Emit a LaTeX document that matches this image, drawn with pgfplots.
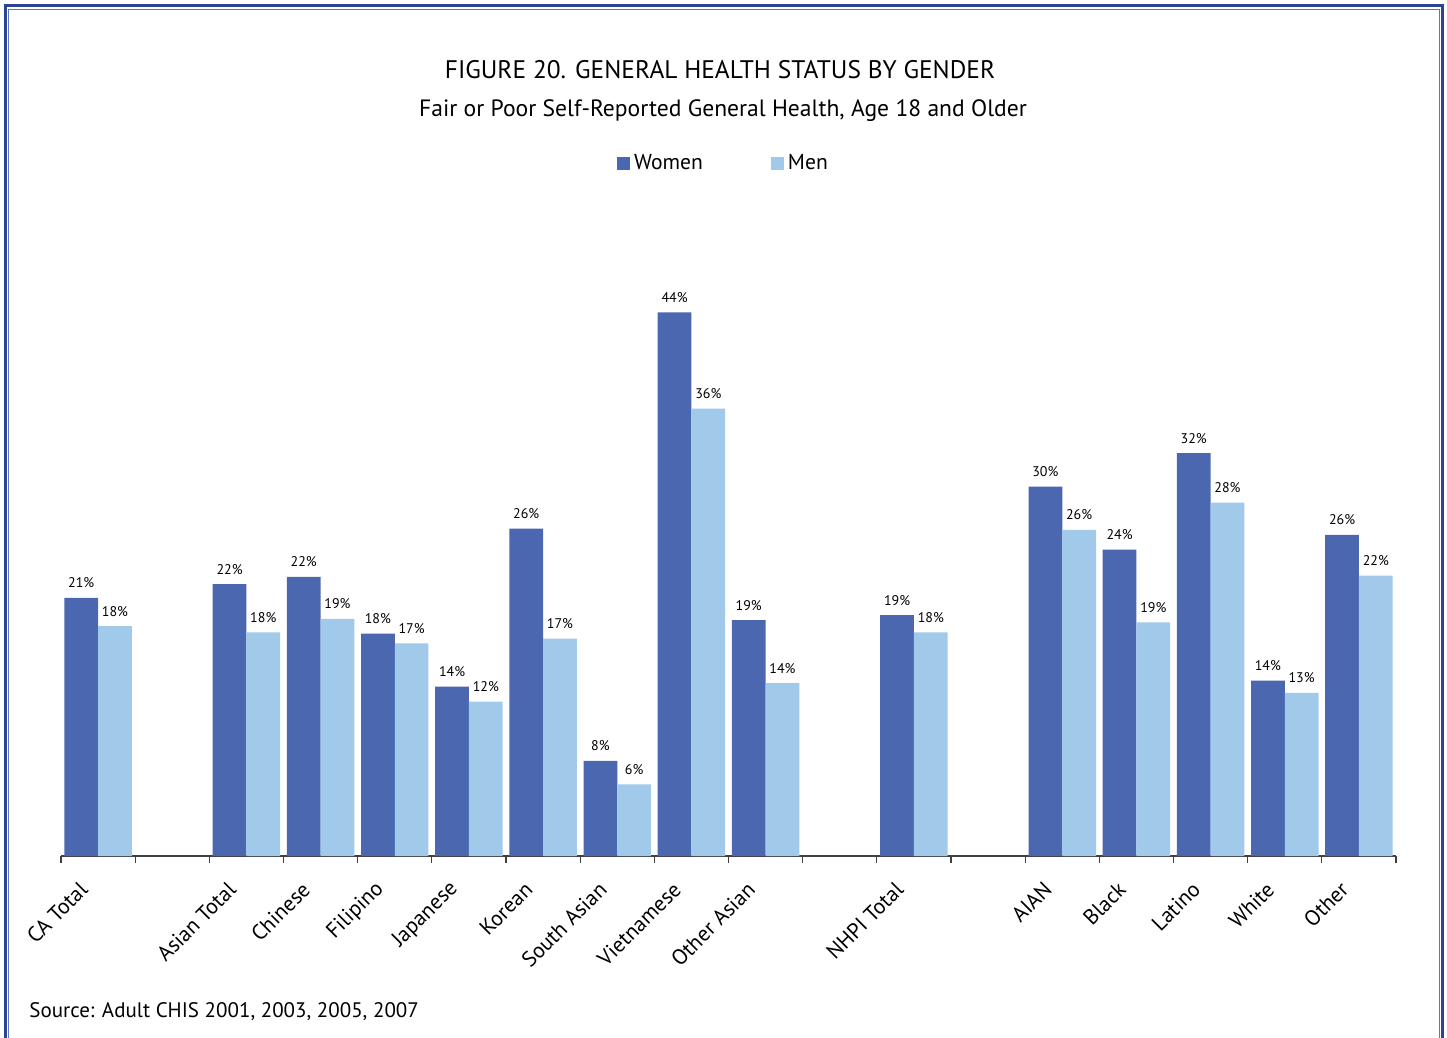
\documentclass[border=0pt]{standalone}
\usepackage{fontspec}
\setmainfont{PT Sans}
\usepackage{pgfplots}
\usepackage{pgfplotstable}
\pgfplotsset{compat=1.18}
\definecolor{women}{RGB}{74,103,176}
\definecolor{men}{RGB}{160,201,234}
\definecolor{frameout}{RGB}{44,68,150}
\definecolor{framein}{RGB}{98,118,182}

% x = slot centre (18 slots, three of them empty), heights, labels as printed
\pgfplotstableread{
x     w     wl  m     ml
0.5   20.9  21  18.6  18
2.5   22.0  22  18.1  18
3.5   22.6  22  19.2  19
4.5   18.0  18  17.2  17
5.5   13.7  14  12.5  12
6.5   26.5  26  17.6  17
7.5   7.7   8   5.8   6
8.5   44.0  44  36.2  36
9.5   19.1  19  14.0  14
11.5  19.5  19  18.1  18
13.5  29.9  30  26.4  26
14.5  24.8  24  18.9  19
15.5  32.6  32  28.6  28
16.5  14.2  14  13.2  13
17.5  26.0  26  22.7  22
}\health

\begin{document}
\begin{tikzpicture}
\begin{scope}[x=0.5pt,y=-0.5pt]
\useasboundingbox (0,0) rectangle (1447,1038);
\draw[frameout,line width=1.5pt] (5,1040) -- (5,5.5) -- (1442.5,5.5) -- (1442.5,1040);
\draw[framein,line width=0.6pt] (8.5,1040) -- (8.5,9.5) -- (1439.5,9.5) -- (1439.5,1040);
\node[anchor=base,font=\fontsize{12.7}{15}\selectfont] at (720,79) {FIGURE 20. GENERAL HEALTH STATUS BY GENDER};
\node[anchor=base,font=\fontsize{11.8}{13}\selectfont] at (723,117) {Fair or Poor Self-Reported General Health, Age 18 and Older};
\node[anchor=base west,font=\fontsize{10.5}{12}\selectfont,inner sep=0pt] at (29,1017) {Source: Adult CHIS 2001, 2003, 2005, 2007};
\end{scope}
\begin{axis}[
    at={(30.5pt,-428pt)}, anchor=south west,
    scale only axis, width=667.5pt, height=278pt,
    xmin=0, xmax=18, ymin=0, ymax=45,
    ybar=0pt, bar width=0.455,
    axis x line*=bottom, axis y line=none,
    axis line style={black!75, line width=0.6pt},
    xtick={0.5,2.5,3.5,4.5,5.5,6.5,7.5,8.5,9.5,11.5,13.5,14.5,15.5,16.5,17.5},
    xticklabels={CA Total,Asian Total,Chinese,Filipino,Japanese,Korean,South Asian,Vietnamese,Other Asian,NHPI Total,AIAN,Black,Latino,White,Other},
    minor xtick={0,1,...,18},
    major tick length=0pt, minor tick length=3.5pt,
    tick align=outside,
    minor tick style={black!75, line width=0.6pt},
    xticklabel style={rotate=45, anchor=east, inner sep=0pt, xshift=-15.5pt, yshift=-5.5pt,
                      font=\fontsize{10.8}{12}\selectfont},
    nodes near coords={\pgfplotspointmeta\%}, point meta=explicit symbolic,
    nodes near coords style={font=\fontsize{7}{8}\selectfont, anchor=base, inner sep=0pt, yshift=5pt, text=black},
    legend columns=2,
    legend style={at={(0.497,1.246)}, anchor=center, draw=none, fill=none,
                  font=\fontsize{10.8}{12}\selectfont,
                  /tikz/every even column/.append style={column sep=32pt}},
    legend image code/.code={\fill[#1] (0pt,-3.25pt) rectangle (6.5pt,3.25pt);},
]
\addplot[fill=women, draw=none] table[x=x, y=w, meta=wl] {\health};
\addlegendentry{Women}
\addplot[fill=men, draw=none] table[x=x, y=m, meta=ml] {\health};
\addlegendentry{Men}
\end{axis}
\end{tikzpicture}
\end{document}
